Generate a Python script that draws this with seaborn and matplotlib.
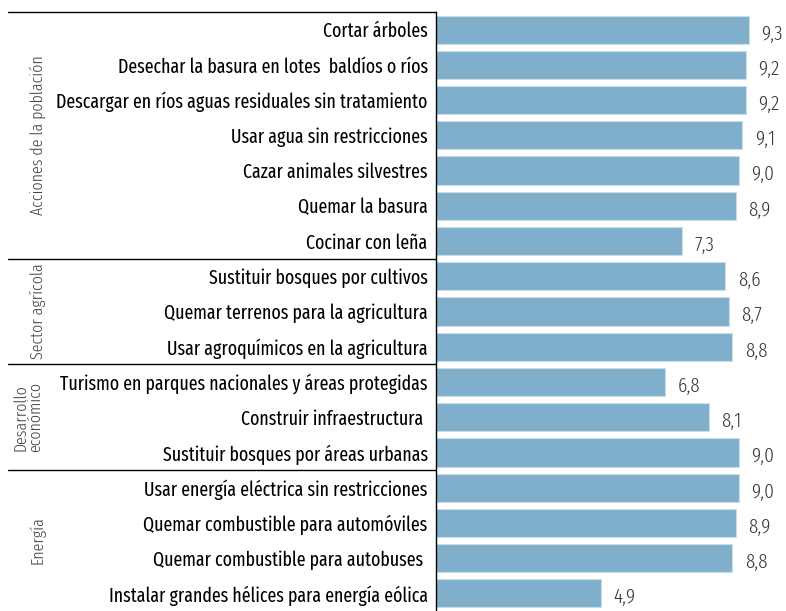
import matplotlib
matplotlib.use("Agg")
import numpy as np
import pandas as pd
import seaborn as sns
import matplotlib.pyplot as plt
import matplotlib.transforms as mtransforms

labels = [
    "Cortar árboles",
    "Desechar la basura en lotes  baldíos o ríos",
    "Descargar en ríos aguas residuales sin tratamiento",
    "Usar agua sin restricciones",
    "Cazar animales silvestres",
    "Quemar la basura",
    "Cocinar con leña",
    "Sustituir bosques por cultivos",
    "Quemar terrenos para la agricultura",
    "Usar agroquímicos en la agricultura",
    "Turismo en parques nacionales y áreas protegidas",
    "Construir infraestructura ",
    "Sustituir bosques por áreas urbanas",
    "Usar energía eléctrica sin restricciones",
    "Quemar combustible para automóviles",
    "Quemar combustible para autobuses ",
    "Instalar grandes hélices para energía eólica",
]
values = [9.3, 9.2, 9.2, 9.1, 9.0, 8.9, 7.3, 8.6, 8.7, 8.8, 6.8, 8.1, 9.0, 9.0, 8.9, 8.8, 4.9]

group_names = ["Acciones de la población", "Sector agrícola", "Desarrollo\neconómico", "Energía"]
group_sizes = [7, 3, 3, 4]

sns.set_style("white")
plt.rcParams["font.family"] = ["Fira Sans Extra Condensed", "Barlow Semi Condensed", "DejaVu Sans"]

df = pd.DataFrame({"accion": labels, "valor": values})

fig = plt.figure(figsize=(7.86, 6.11), dpi=100)
ax = fig.add_axes([436 / 786, 0.0, 1 - 436 / 786, 1 - 12 / 611])

sns.barplot(data=df, x="valor", y="accion", orient="h", color="#80afcb",
            saturation=1, width=0.8, edgecolor="#c9dde9", linewidth=0.8, ax=ax)

ax.set_xlim(0, 10.4)
ax.set_ylim(len(labels) - 0.5, -0.5)
ax.set_xlabel("")
ax.set_ylabel("")
ax.set_xticks([])
for s in ["top", "right", "bottom"]:
    ax.spines[s].set_visible(False)
ax.spines["left"].set_color("black")
ax.spines["left"].set_linewidth(1.0)
ax.tick_params(axis="y", length=0, pad=6, labelsize=14, labelcolor="black")
for t in ax.get_yticklabels():
    t.set_fontweight(400)

# value labels
for i, v in enumerate(values):
    ax.annotate(f"{v:.1f}".replace(".", ","), xy=(v, i), xytext=(9, -3),
                textcoords="offset points", ha="left", va="center",
                fontsize=15, fontweight=300, color="#3a3a3a")

# group separators and labels
trans = mtransforms.blended_transform_factory(ax.transAxes, ax.transData)
x_left = (8 - 436) / (786 - 436)
start = 0
bounds = [-0.5]
for name, size in zip(group_names, group_sizes):
    center = start + (size - 1) / 2
    xpos = -1.137 if "\n" not in name else -1.165
    ax.text(xpos, center, name, transform=trans, rotation=90, ha="center",
            va="center", fontsize=12.5, fontweight=300, color="#444444",
            linespacing=0.85)
    start += size
    if start < len(labels):
        bounds.append(start - 0.5)
for b in bounds:
    ax.plot([x_left, 0], [b, b], transform=trans, color="black", lw=1.0, clip_on=False)

fig.savefig("out.png", dpi=100)
